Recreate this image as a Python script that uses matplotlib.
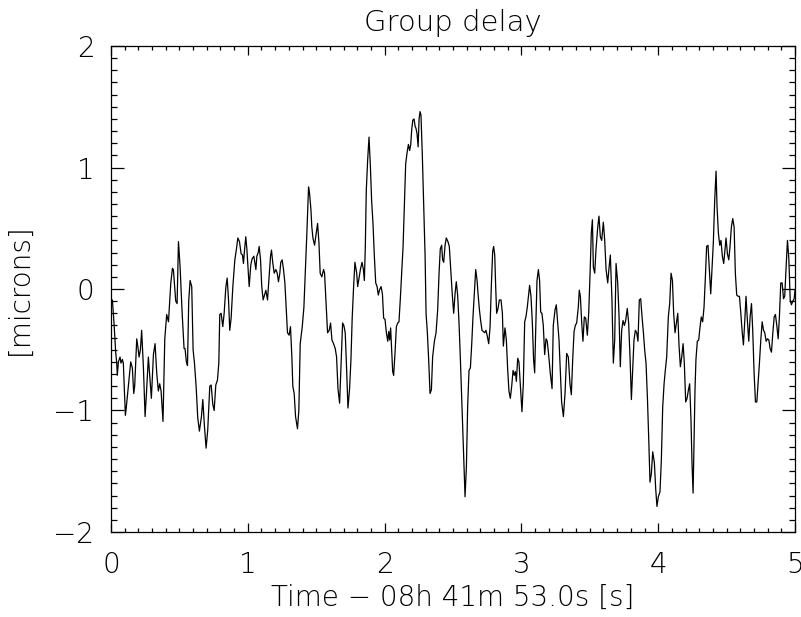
import matplotlib
matplotlib.use('Agg')
import matplotlib.pyplot as plt
from matplotlib.ticker import MultipleLocator
import numpy as np

# group delay trace, time in s since 08h 41m 53.0s, delay in microns
time = [
    0.000, 0.010, 0.022, 0.034, 0.041, 0.046, 0.054, 0.066, 0.073, 0.083,
    0.090, 0.105, 0.112, 0.127, 0.144, 0.156, 0.166, 0.173, 0.188, 0.198,
    0.205, 0.215, 0.224, 0.237, 0.249, 0.259, 0.273, 0.285, 0.295, 0.310,
    0.322, 0.334, 0.346, 0.356, 0.366, 0.380, 0.393, 0.407, 0.420, 0.437,
    0.449, 0.456, 0.473, 0.483, 0.493, 0.505, 0.520, 0.534, 0.541, 0.551,
    0.559, 0.568, 0.578, 0.590, 0.600, 0.610, 0.622, 0.634, 0.646, 0.661,
    0.671, 0.683, 0.695, 0.707, 0.722, 0.732, 0.744, 0.754, 0.766, 0.778,
    0.788, 0.795, 0.805, 0.817, 0.827, 0.839, 0.849, 0.859, 0.868, 0.878,
    0.890, 0.905, 0.917, 0.927, 0.939, 0.951, 0.961, 0.968, 0.976, 0.985,
    0.993, 1.010, 1.022, 1.032, 1.044, 1.051, 1.059, 1.066, 1.076, 1.083,
    1.093, 1.102, 1.112, 1.122, 1.132, 1.144, 1.156, 1.166, 1.173, 1.183,
    1.193, 1.205, 1.215, 1.224, 1.234, 1.241, 1.251, 1.261, 1.271, 1.280,
    1.290, 1.302, 1.312, 1.322, 1.329, 1.339, 1.349, 1.363, 1.373, 1.383,
    1.398, 1.410, 1.422, 1.432, 1.444, 1.451, 1.461, 1.468, 1.476, 1.488,
    1.500, 1.510, 1.520, 1.529, 1.541, 1.554, 1.561, 1.571, 1.583, 1.595,
    1.605, 1.615, 1.627, 1.639, 1.649, 1.659, 1.671, 1.683, 1.693, 1.702,
    1.712, 1.722, 1.732, 1.744, 1.754, 1.763, 1.773, 1.783, 1.796, 1.803,
    1.813, 1.823, 1.835, 1.845, 1.852, 1.859, 1.866, 1.876, 1.886, 1.896,
    1.905, 1.915, 1.925, 1.935, 1.945, 1.954, 1.962, 1.974, 1.984, 1.993,
    2.003, 2.013, 2.023, 2.030, 2.037, 2.044, 2.052, 2.059, 2.066, 2.076,
    2.086, 2.096, 2.105, 2.115, 2.125, 2.135, 2.144, 2.154, 2.164, 2.174,
    2.183, 2.191, 2.198, 2.206, 2.215, 2.223, 2.230, 2.237, 2.245, 2.252,
    2.259, 2.266, 2.276, 2.286, 2.296, 2.303, 2.312, 2.322, 2.332, 2.342,
    2.351, 2.364, 2.376, 2.388, 2.398, 2.407, 2.417, 2.424, 2.432, 2.442,
    2.451, 2.463, 2.473, 2.485, 2.495, 2.505, 2.515, 2.524, 2.534, 2.544,
    2.554, 2.566, 2.576, 2.588, 2.598, 2.607, 2.617, 2.627, 2.637, 2.646,
    2.656, 2.666, 2.676, 2.683, 2.693, 2.702, 2.712, 2.722, 2.732, 2.741,
    2.751, 2.761, 2.771, 2.780, 2.790, 2.797, 2.805, 2.812, 2.819, 2.829,
    2.839, 2.851, 2.861, 2.868, 2.880, 2.890, 2.900, 2.909, 2.919, 2.929,
    2.939, 2.948, 2.956, 2.963, 2.973, 2.982, 2.992, 3.004, 3.014, 3.024,
    3.033, 3.043, 3.053, 3.060, 3.070, 3.080, 3.089, 3.097, 3.104, 3.114,
    3.124, 3.133, 3.141, 3.150, 3.160, 3.170, 3.180, 3.189, 3.199, 3.211,
    3.224, 3.233, 3.246, 3.255, 3.265, 3.275, 3.285, 3.294, 3.307, 3.319,
    3.331, 3.343, 3.355, 3.365, 3.375, 3.385, 3.394, 3.404, 3.416, 3.423,
    3.431, 3.441, 3.450, 3.460, 3.470, 3.482, 3.492, 3.502, 3.511, 3.519,
    3.526, 3.536, 3.545, 3.558, 3.567, 3.577, 3.587, 3.599, 3.609, 3.619,
    3.631, 3.641, 3.650, 3.662, 3.672, 3.682, 3.692, 3.704, 3.714, 3.723,
    3.733, 3.743, 3.753, 3.762, 3.774, 3.784, 3.794, 3.804, 3.813, 3.823,
    3.833, 3.843, 3.852, 3.862, 3.872, 3.882, 3.892, 3.901, 3.911, 3.921,
    3.931, 3.940, 3.950, 3.960, 3.972, 3.982, 3.991, 4.001, 4.013, 4.023,
    4.033, 4.043, 4.052, 4.062, 4.074, 4.084, 4.094, 4.104, 4.113, 4.123,
    4.133, 4.143, 4.152, 4.162, 4.172, 4.182, 4.191, 4.201, 4.211, 4.221,
    4.230, 4.240, 4.247, 4.255, 4.262, 4.269, 4.276, 4.286, 4.296, 4.306,
    4.315, 4.325, 4.335, 4.345, 4.354, 4.364, 4.374, 4.384, 4.394, 4.403,
    4.413, 4.423, 4.430, 4.440, 4.450, 4.459, 4.469, 4.479, 4.489, 4.496,
    4.506, 4.516, 4.525, 4.535, 4.545, 4.555, 4.564, 4.574, 4.584, 4.594,
    4.604, 4.613, 4.623, 4.633, 4.642, 4.652, 4.662, 4.672, 4.682, 4.691,
    4.701, 4.711, 4.721, 4.730, 4.740, 4.750, 4.760, 4.770, 4.779, 4.789,
    4.799, 4.809, 4.818, 4.828, 4.838, 4.848, 4.857, 4.867, 4.877, 4.886,
    4.896, 4.906, 4.916, 4.925, 4.935, 4.945, 4.955, 4.965, 4.974, 4.984,
    4.994, 5.000,
]
delay = [
    -0.12, -0.09, -0.28, -0.52, -0.60, -0.71, -0.60, -0.56, -0.61, -0.58,
    -0.61, -1.04, -0.97, -0.80, -0.60, -0.65, -0.86, -0.80, -0.41, -0.49,
    -0.56, -0.50, -0.34, -0.65, -1.05, -0.86, -0.56, -0.75, -0.90, -0.54,
    -0.45, -0.69, -0.84, -0.78, -0.84, -1.09, -0.41, -0.21, -0.27, 0.05,
    0.17, 0.16, -0.10, -0.12, 0.39, 0.18, -0.20, -0.49, -0.49, -0.60,
    -0.63, -0.10, 0.07, 0.02, -0.50, -0.61, -0.80, -1.06, -1.17, -1.05,
    -0.91, -1.13, -1.31, -1.16, -0.80, -0.79, -0.95, -1.00, -0.79, -0.75,
    -0.61, -0.21, -0.20, -0.31, -0.20, 0.01, 0.09, -0.09, -0.34, -0.24,
    0.01, 0.24, 0.33, 0.42, 0.39, 0.29, 0.28, 0.21, 0.32, 0.43,
    0.33, 0.02, 0.20, 0.25, 0.27, 0.22, 0.16, 0.27, 0.30, 0.35,
    0.24, 0.02, -0.09, -0.05, -0.01, -0.09, 0.10, 0.27, 0.32, 0.21,
    0.13, 0.16, 0.13, 0.06, 0.13, 0.22, 0.24, 0.16, 0.05, -0.15,
    -0.36, -0.38, -0.31, -0.56, -0.80, -0.86, -1.05, -1.15, -1.00, -0.45,
    -0.31, -0.15, 0.18, 0.47, 0.84, 0.79, 0.66, 0.51, 0.42, 0.36,
    0.46, 0.54, 0.38, 0.13, 0.10, 0.16, 0.13, -0.09, -0.36, -0.34,
    -0.28, -0.42, -0.45, -0.49, -0.56, -0.82, -0.94, -0.58, -0.28, -0.30,
    -0.36, -0.65, -0.98, -0.82, -0.58, -0.24, 0.01, 0.22, 0.13, 0.02,
    0.09, 0.16, 0.22, 0.16, 0.07, 0.35, 0.81, 1.06, 1.25, 1.01,
    0.73, 0.54, 0.27, 0.05, 0.02, -0.05, -0.01, 0.02, -0.04, -0.24,
    -0.25, -0.36, -0.43, -0.35, -0.42, -0.32, -0.52, -0.68, -0.71, -0.53,
    -0.31, -0.28, -0.27, -0.08, 0.13, 0.35, 0.68, 1.03, 1.12, 1.19,
    1.14, 1.19, 1.31, 1.39, 1.40, 1.34, 1.32, 1.28, 1.17, 1.40,
    1.46, 1.43, 1.09, 0.68, 0.27, -0.20, -0.35, -0.58, -0.86, -0.83,
    -0.56, -0.43, -0.36, -0.17, 0.13, 0.33, 0.36, 0.24, 0.22, 0.36,
    0.42, 0.39, 0.35, 0.13, -0.05, -0.20, -0.04, 0.06, -0.05, -0.28,
    -0.58, -0.97, -1.30, -1.71, -1.46, -0.97, -0.67, -0.65, -0.45, -0.23,
    -0.04, 0.16, 0.07, -0.04, -0.17, -0.26, -0.34, -0.35, -0.36, -0.34,
    -0.39, -0.45, -0.31, 0.02, 0.31, 0.35, 0.28, 0.02, -0.20, -0.16,
    -0.09, -0.09, -0.20, -0.47, -0.32, -0.42, -0.67, -0.84, -0.90, -0.80,
    -0.67, -0.71, -0.68, -0.76, -0.57, -0.60, -0.79, -1.01, -0.78, -0.27,
    -0.23, -0.15, -0.04, 0.03, -0.06, -0.28, -0.58, -0.69, -0.36, 0.07,
    0.16, 0.07, -0.19, -0.20, -0.30, -0.54, -0.41, -0.43, -0.54, -0.69,
    -0.82, -0.30, -0.17, -0.13, -0.27, -0.42, -0.69, -0.93, -1.05, -0.86,
    -0.53, -0.56, -0.78, -0.87, -0.58, -0.35, -0.30, -0.28, -0.15, -0.01,
    -0.06, -0.28, -0.43, -0.23, -0.24, -0.38, -0.20, 0.13, 0.46, 0.57,
    0.18, 0.13, 0.32, 0.51, 0.60, 0.43, 0.40, 0.55, 0.40, 0.16,
    0.05, 0.18, 0.28, -0.09, -0.61, -0.42, 0.21, 0.05, -0.23, -0.64,
    -0.34, -0.26, -0.30, -0.26, -0.16, -0.28, -0.56, -0.91, -0.67, -0.42,
    -0.34, -0.36, -0.43, -0.09, -0.08, -0.23, -0.36, -0.50, -0.61, -0.89,
    -1.24, -1.59, -1.52, -1.34, -1.43, -1.65, -1.79, -1.71, -1.67, -1.41,
    -0.97, -0.78, -0.67, -0.56, -0.23, -0.12, 0.13, 0.07, -0.20, -0.36,
    -0.28, -0.20, -0.46, -0.64, -0.56, -0.45, -0.61, -0.93, -0.90, -0.83,
    -0.78, -1.09, -1.43, -1.68, -1.24, -0.83, -0.58, -0.43, -0.42, -0.31,
    -0.23, -0.27, -0.15, 0.10, 0.35, 0.36, 0.16, -0.04, 0.18, 0.38,
    0.73, 0.97, 0.68, 0.46, 0.36, 0.40, 0.27, 0.21, 0.33, 0.42,
    0.29, 0.24, 0.35, 0.51, 0.58, 0.51, 0.13, -0.05, -0.06, -0.06,
    -0.20, -0.34, -0.46, -0.26, -0.06, -0.26, -0.43, -0.23, -0.12, -0.34,
    -0.69, -0.93, -0.93, -0.78, -0.61, -0.42, -0.27, -0.34, -0.36, -0.43,
    -0.41, -0.42, -0.49, -0.52, -0.36, -0.23, -0.21, -0.30, -0.41, -0.23,
    0.05, 0.05, -0.08, -0.06, 0.18, 0.40, 0.25, -0.09, -0.13, -0.10,
    -0.08, -0.01,
]

title = 'Group delay'
xlabel = 'Time \u2212 08h 41m 53.0s [s]'
ylabel = '[microns]'

plt.rcParams['font.family'] = ['DejaVu Sans']
plt.rcParams['font.weight'] = 'light'
plt.rcParams['axes.titleweight'] = 'light'
plt.rcParams['axes.labelweight'] = 'light'

fig = plt.figure(figsize=(8.01, 6.17), dpi=100)
ax = fig.add_axes([0.1386, 0.1378, 0.8539, 0.7876])

ax.plot(time, delay, color='black', linewidth=0.9)

ax.set_xlim(0, 5)
ax.set_ylim(-2, 2)
ax.xaxis.set_major_locator(MultipleLocator(1))
ax.xaxis.set_minor_locator(MultipleLocator(0.1))
ax.yaxis.set_major_locator(MultipleLocator(1))
ax.yaxis.set_minor_locator(MultipleLocator(0.1))

ax.tick_params(which='both', direction='in', top=True, right=True,
               width=0.9, colors='black', labelsize=20)
ax.tick_params(axis='x', which='major', length=6.5, pad=14)
ax.tick_params(axis='x', which='minor', length=3.2)
ax.tick_params(axis='y', which='major', length=9.4, pad=12)
ax.tick_params(axis='y', which='minor', length=4.3)
ax.set_yticks([-2, -1, 0, 1, 2])
ax.set_yticklabels(['\u22122', '\u22121', '0', '1', '2'])

for s in ax.spines.values():
    s.set_linewidth(0.9)

ax.set_title(title, fontsize=21, pad=11)
ax.set_xlabel(xlabel, fontsize=20, labelpad=3)
ax.set_ylabel(ylabel, fontsize=20, labelpad=14)

fig.savefig('out.png', dpi=100)
